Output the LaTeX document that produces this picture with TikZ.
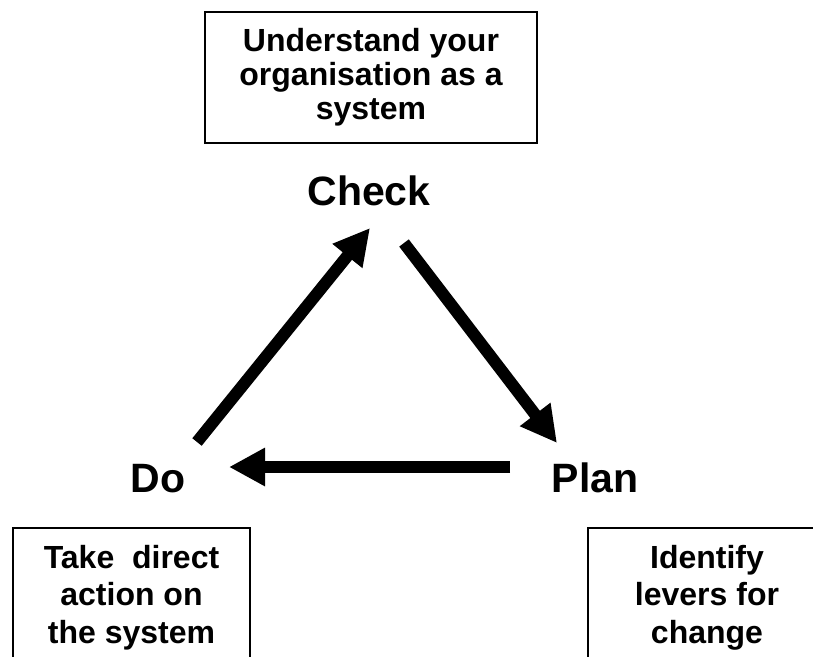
\documentclass[tikz,border=0pt]{standalone}
\usepackage{fontspec}
\setmainfont{Liberation Sans}
\usetikzlibrary{arrows.meta}
\begin{document}
\begin{tikzpicture}[x=1pt,y=-1pt,
  box/.style={draw=black,line width=1.5pt,align=center,inner sep=0pt,
    font=\bfseries\fontsize{32}{34}\selectfont},
  lowbox/.style={box,font=\bfseries\fontsize{32}{37.5}\selectfont},
  phase/.style={font=\bfseries\fontsize{41}{41}\selectfont,anchor=base,inner sep=0pt},
  flow/.style={line width=12pt,-{Triangle[length=36pt,width=36pt]}}]
\useasboundingbox (0,0) rectangle (813,656);
\clip (0,0) rectangle (813,656);
\node[box,minimum width=332pt,minimum height=131pt] (understand) at (371,77.5)
  {Understand your\\organisation as a\\system};
\node[lowbox,minimum width=237pt,minimum height=139pt] (take) at (131.5,597.5)
  {Take\ \ direct\\action on\\the system};
\node[lowbox,minimum width=238pt,minimum height=139pt] (identify) at (707,597.5)
  {Identify\\levers for\\change};
\node[phase] (check) at (369,205) {Check};
\node[phase] (do) at (158,492) {Do};
\node[phase] (plan) at (595,492) {Plan};
\coordinate (a1s) at (197,442);
\coordinate (a1e) at (370,228);
\coordinate (a2s) at (404,243);
\coordinate (a2e) at (557,443);
\coordinate (a3s) at (510,467);
\coordinate (a3e) at (229,467);
\draw[flow] (a1s) -- (a1e);
\draw[flow] (a2s) -- (a2e);
\draw[flow] (a3s) -- (a3e);
\end{tikzpicture}
\end{document}
